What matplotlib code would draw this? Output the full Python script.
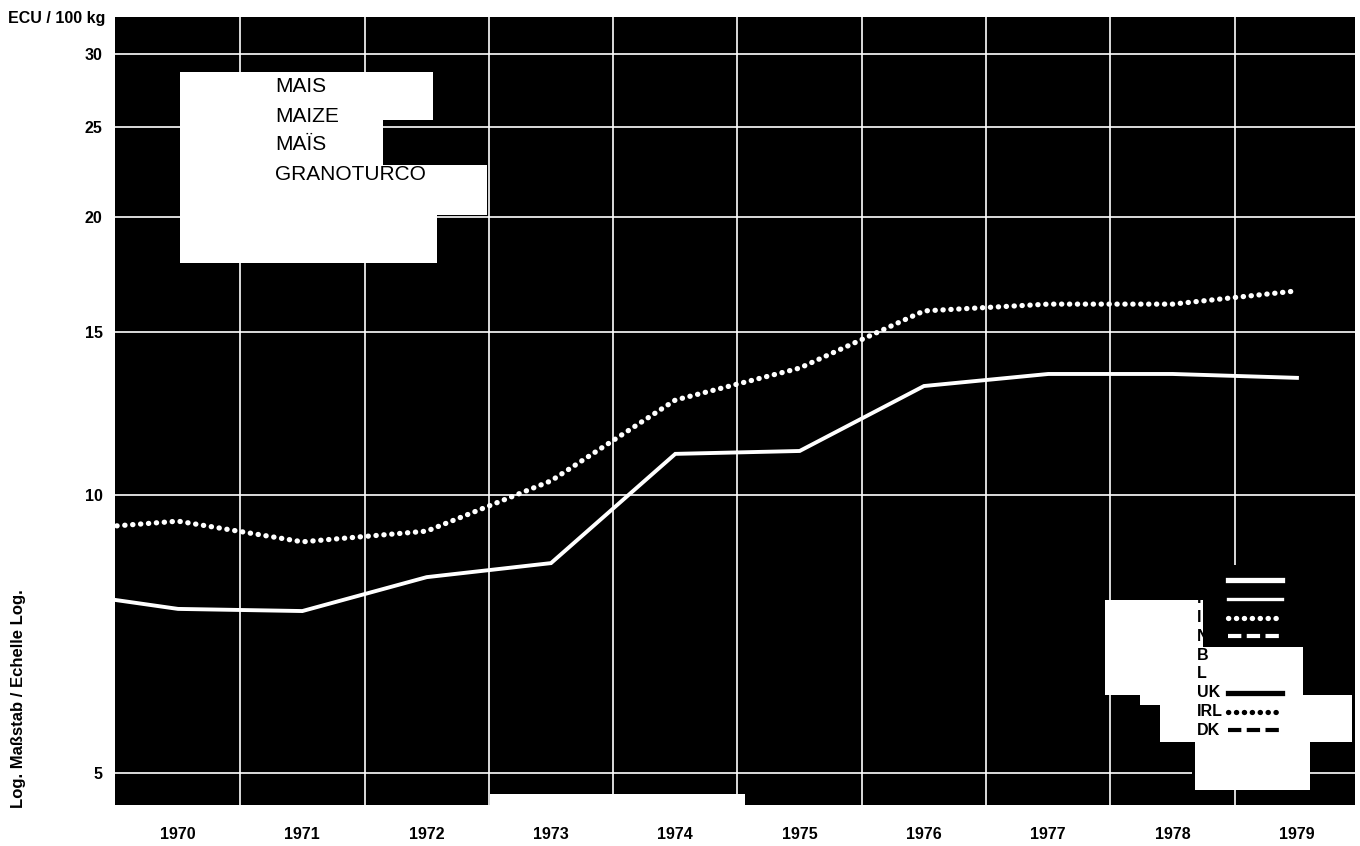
import matplotlib
matplotlib.use("Agg")
import matplotlib.pyplot as plt
from matplotlib.patches import Polygon, Rectangle
from matplotlib.ticker import FixedLocator, NullLocator, FixedFormatter

plt.rcParams['font.family'] = ['Liberation Sans', 'DejaVu Sans']

# values (ECU / 100 kg)
years = [1969, 1970, 1971, 1972, 1973, 1974, 1975, 1976, 1977, 1978, 1979]
solid_vals = [7.87, 7.53, 7.49, 8.15, 8.44, 11.08, 11.16, 13.12, 13.52, 13.52, 13.39]
dotted_vals = [9.15, 9.37, 8.90, 9.14, 10.36, 12.67, 13.72, 15.82, 16.09, 16.09, 16.63]

y_ticks = [5, 10, 15, 20, 25, 30]
year_labels = [str(y) for y in range(1970, 1980)]
title_lines = ["MAIS", "MAIZE", "MAÏS", "GRANOTURCO"]
legend_labels = ["D", "F", "I", "NL", "B", "L", "UK", "IRL", "DK"]
legend_styles = ["thick", "thin", "dot", "dash", None, None, "thick", "dot", "dash"]
legend_colors = ["white", "white", "white", "white", None, None, "black", "black", "black"]

W, H = 1360, 846
AX_L, AX_R, AX_T, AX_B = 115, 1355, 17, 805


def axf(px, py):
    # pixel position in the reference -> axes fraction
    return ((px - AX_L) / (AX_R - AX_L), (AX_B - py) / (AX_B - AX_T))


fig = plt.figure(figsize=(W / 100, H / 100), dpi=100)
ax = fig.add_axes([AX_L / W, 1 - AX_B / H, (AX_R - AX_L) / W, (AX_B - AX_T) / H])
ax.set_facecolor("black")
for s in ax.spines.values():
    s.set_visible(False)

ax.set_yscale("log")
ax.set_xlim(1969.493, 1979.467)
ax.set_ylim(4.62, 32.9)

ax.yaxis.set_major_locator(FixedLocator(y_ticks))
ax.yaxis.set_major_formatter(FixedFormatter([str(v) for v in y_ticks]))
ax.yaxis.set_minor_locator(NullLocator())
ax.xaxis.set_major_locator(FixedLocator(range(1970, 1980)))
ax.xaxis.set_major_formatter(FixedFormatter(year_labels))
ax.xaxis.set_minor_locator(FixedLocator([y + 0.5 for y in range(1970, 1979)]))
ax.tick_params(which="both", length=0)
ax.tick_params(axis="y", pad=9, labelsize=11.5)
ax.tick_params(axis="x", pad=16, labelsize=11.5)
for lab in ax.get_xticklabels() + ax.get_yticklabels():
    lab.set_fontweight("bold")

ax.grid(True, which="major", axis="y", color="white", lw=1.2)
ax.grid(True, which="minor", axis="x", color="white", lw=1.2)
ax.set_axisbelow(True)

ax.plot(years, solid_vals, color="white", lw=2.8, solid_joinstyle="miter", zorder=2)
ax.plot(years, dotted_vals, color="white", lw=3.8, linestyle=(0, (0.05, 1.45)),
        dash_capstyle="round", zorder=2)

# title block
title_poly = [(180, 72), (433, 72), (433, 120), (383, 120), (383, 165), (487, 165),
              (487, 215), (437, 215), (437, 263), (180, 263)]
ax.add_patch(Polygon([axf(*p) for p in title_poly], closed=True, transform=ax.transAxes,
                     facecolor="white", edgecolor="none", zorder=3))
for i, t in enumerate(title_lines):
    x, y = axf(275, 87 + i * 29)
    ax.text(x, y, t, transform=ax.transAxes, fontsize=15, va="center", ha="left",
            color="black", zorder=4)

# white strip at the bottom
x0, y0 = axf(490, 805)
x1, y1 = axf(745, 794)
ax.add_patch(Rectangle((x0, y0), x1 - x0, y1 - y0, transform=ax.transAxes,
                       facecolor="white", edgecolor="none", zorder=3))

# legend block
x0, y0 = axf(1192, 790)
x1, y1 = axf(1302, 565)
ax.add_patch(Rectangle((x0, y0), x1 - x0, y1 - y0, transform=ax.transAxes,
                       facecolor="black", edgecolor="none", zorder=3))
leg_poly = [(1105, 600), (1203, 600), (1203, 647), (1303, 647), (1303, 695), (1352, 695),
            (1352, 742), (1310, 742), (1310, 790), (1195, 790), (1195, 742), (1160, 742),
            (1160, 705), (1140, 705), (1140, 695), (1105, 695)]
ax.add_patch(Polygon([axf(*p) for p in leg_poly], closed=True, transform=ax.transAxes,
                     facecolor="white", edgecolor="none", zorder=3.5))

style_kw = {
    "thick": dict(lw=3.8, linestyle="-"),
    "thin": dict(lw=2.4, linestyle="-"),
    "dot": dict(lw=3.8, linestyle=(0, (0.05, 1.45)), dash_capstyle="round"),
    "dash": dict(lw=3.0, linestyle=(0, (3.2, 1.3))),
}
for i, (lab, st, col) in enumerate(zip(legend_labels, legend_styles, legend_colors)):
    py = 580 + i * 18.8
    tx, ty = axf(1197, py)
    ax.text(tx, ty, lab, transform=ax.transAxes, fontsize=11.5, fontweight="bold",
            va="center", ha="left", color="black", zorder=4)
    if st is not None:
        lx0, ly = axf(1228, py)
        lx1, _ = axf(1282, py)
        ax.plot([lx0, lx1], [ly, ly], transform=ax.transAxes, color=col, zorder=4,
                **style_kw[st])

fig.text(8 / W, 1 - 19 / H, "ECU / 100 kg", fontsize=11.5, fontweight="bold",
         ha="left", va="center")
fig.text(19 / W, 1 - 699 / H, "Log. Maßstab / Echelle Log.", fontsize=12,
         fontweight="bold", rotation=90, ha="center", va="center")

fig.savefig("out.png", dpi=100, facecolor="white")
